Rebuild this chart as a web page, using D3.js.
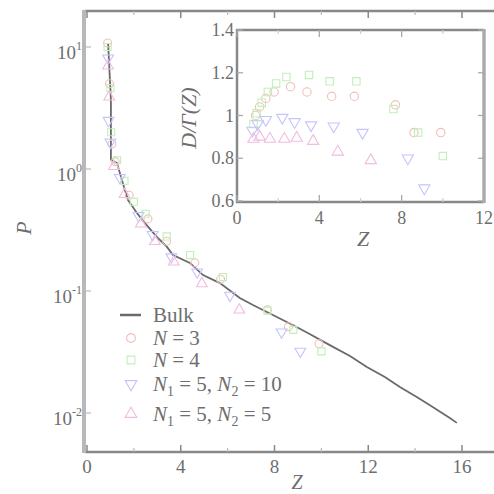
<!DOCTYPE html>
<html>
<head>
<meta charset="utf-8">
<script src="https://cdn.jsdelivr.net/npm/d3@7"></script>
<style>
  body { margin: 0; background: #fff; }
</style>
</head>
<body>
<svg id="chart" width="494" height="494" font-family="'Liberation Serif', 'Times New Roman', Times, 'DejaVu Serif', serif" fill="#6e6e6e"></svg>
<script>
// bulk curve, P against Z
var bulkZ = [0.90, 1.02, 1.02, 1.02, 1.28, 1.49, 1.75, 2.13, 2.47, 2.99, 3.41, 3.67, 4.39, 4.95, 5.67, 6.52, 7.08, 7.93, 8.78, 9.42, 10.36, 11.22, 11.94, 12.71, 13.35, 14.07, 14.75, 15.48, 15.78];
var bulkP = [10.8, 3.68, 1.97, 1.19, 1.12, 0.81, 0.557, 0.436, 0.36, 0.277, 0.23, 0.197, 0.17, 0.135, 0.116, 0.0877, 0.0768, 0.0635, 0.0526, 0.0453, 0.036, 0.0293, 0.0238, 0.0197, 0.0163, 0.0135, 0.0112, 0.0091, 0.0083];

// main plot series
var n3Z = [0.88, 0.96, 1.06, 1.2, 1.8, 2.6, 3.4, 4.6, 5.7, 7.7, 8.6, 9.9];
var n3P = [10.8, 5.0, 1.6, 1.15, 0.61, 0.39, 0.256, 0.17, 0.125, 0.07, 0.051, 0.037];
var n4Z = [0.88, 1.0, 1.03, 1.28, 1.6, 2.0, 2.5, 3.4, 4.4, 5.8, 7.7, 8.8, 10.0];
var n4P = [10, 4.6, 2.0, 1.18, 0.8, 0.54, 0.43, 0.28, 0.197, 0.13, 0.069, 0.048, 0.032];
var n510Z = [0.9, 0.92, 1.0, 1.4, 2.2, 2.8, 3.6, 4.7, 6.1, 8.3, 9.1];
var n510P = [8.1, 2.5, 1.66, 0.85, 0.415, 0.29, 0.19, 0.143, 0.092, 0.046, 0.032];
var n55Z = [0.9, 0.95, 1.15, 1.6, 2.3, 2.9, 3.7, 4.9, 6.5];
var n55P = [7.0, 3.9, 1.05, 0.62, 0.355, 0.255, 0.173, 0.115, 0.07];

// inset series, D/Γ(Z) against Z
var in3Z = [0.9, 1.1, 1.4, 1.8, 2.6, 3.4, 4.6, 5.7, 7.7, 8.6, 9.9];
var in3V = [1.0, 1.04, 1.08, 1.11, 1.135, 1.11, 1.09, 1.09, 1.05, 0.92, 0.92];
var in4Z = [0.8, 0.95, 1.2, 1.5, 1.9, 2.4, 3.5, 4.5, 5.8, 7.6, 8.8, 10.0];
var in4V = [0.96, 1.01, 1.06, 1.11, 1.15, 1.18, 1.19, 1.16, 1.16, 1.03, 0.92, 0.81];
var in510Z = [0.75, 1.0, 1.4, 2.2, 2.8, 3.6, 4.7, 6.1, 8.3, 9.1];
var in510V = [0.93, 0.96, 0.98, 0.99, 0.97, 0.955, 0.95, 0.92, 0.8, 0.66];
var in55Z = [0.8, 1.1, 1.6, 2.3, 2.9, 3.7, 4.9, 6.5];
var in55V = [0.89, 0.9, 0.89, 0.89, 0.895, 0.88, 0.83, 0.79];

var xTicks = [0, 4, 8, 12, 16];
var xMinor = [2, 6, 10, 14];
var yTicks = [10, 1, 0.1, 0.01];
var yExp = ["1", "0", "-1", "-2"];
var inXTicks = [0, 4, 8, 12];
var inXMinor = [2, 6, 10];
var inYTicks = [0.6, 0.8, 1, 1.2, 1.4];
var inYLabels = ["0.6", "0.8", "1", "1.2", "1.4"];

var series = [
  { sym: d3.symbolCircle, color: "#f0c0b8", z: n3Z, p: n3P, iz: in3Z, iv: in3V },
  { sym: d3.symbolSquare, color: "#c0f0b8", z: n4Z, p: n4P, iz: in4Z, iv: in4V },
  { sym: "down", color: "#c4c4fc", z: n510Z, p: n510P, iz: in510Z, iv: in510V },
  { sym: d3.symbolTriangle, color: "#f2bce0", z: n55Z, p: n55P, iz: in55Z, iv: in55V }
];

var svg = d3.select("#chart");
var axisCol = "#888";

var x = d3.scaleLinear().domain([0, 16]).range([87, 462]);
var y = d3.scaleLog().domain([0.01, 10]).range([413, 47]);

function marker(g, s, px, py, size) {
  var t;
  if (s.sym === "down") {
    t = g.append("path").attr("d", d3.symbol(d3.symbolTriangle, size)())
      .attr("transform", "translate(" + px + "," + py + ") rotate(180)");
  } else {
    t = g.append("path").attr("d", d3.symbol(s.sym, size)())
      .attr("transform", "translate(" + px + "," + py + ")");
  }
  t.attr("fill", "none").attr("stroke", s.color).attr("stroke-width", 1.1);
}

// ---- main frame
svg.append("line").attr("x1", 85).attr("x2", 494).attr("y1", 11).attr("y2", 11)
  .attr("stroke", axisCol).attr("stroke-width", 2.5);
svg.append("line").attr("x1", 85).attr("x2", 494).attr("y1", 452).attr("y2", 452)
  .attr("stroke", axisCol).attr("stroke-width", 2.5);
svg.append("line").attr("x1", 84).attr("x2", 84).attr("y1", 10).attr("y2", 453)
  .attr("stroke", "#b8b8b8").attr("stroke-width", 4);

xTicks.forEach(function(t) {
  svg.append("line").attr("x1", x(t)).attr("x2", x(t)).attr("y1", 452).attr("y2", 445)
    .attr("stroke", axisCol).attr("stroke-width", 1.5);
  svg.append("line").attr("x1", x(t)).attr("x2", x(t)).attr("y1", 11).attr("y2", 18)
    .attr("stroke", axisCol).attr("stroke-width", 1.5);
  svg.append("text").attr("x", x(t)).attr("y", 473).attr("text-anchor", "middle")
    .attr("font-size", 19).text(t);
});
xMinor.forEach(function(t) {
  svg.append("line").attr("x1", x(t)).attr("x2", x(t)).attr("y1", 452).attr("y2", 448)
    .attr("stroke", "#bbb").attr("stroke-width", 1.2);
  svg.append("line").attr("x1", x(t)).attr("x2", x(t)).attr("y1", 11).attr("y2", 15)
    .attr("stroke", "#bbb").attr("stroke-width", 1.2);
});
yTicks.forEach(function(t, i) {
  svg.append("line").attr("x1", 85).attr("x2", 91).attr("y1", y(t)).attr("y2", y(t))
    .attr("stroke", "#bbb").attr("stroke-width", 1.2);
  var tx = svg.append("text").attr("x", 82).attr("y", y(t) + 12).attr("text-anchor", "end")
    .attr("font-size", 19);
  tx.append("tspan").text("10");
  tx.append("tspan").attr("dy", -9).attr("font-size", 12).text(yExp[i]);
});

svg.append("text").attr("transform", "translate(31,228) rotate(-90)")
  .attr("text-anchor", "middle").attr("font-size", 22).attr("font-style", "italic").text("P");
svg.append("text").attr("x", 297).attr("y", 489).attr("text-anchor", "middle")
  .attr("font-size", 20).attr("font-style", "italic").text("Z");

// ---- bulk line and markers
var line = d3.line().x(function(d) { return x(d[0]); }).y(function(d) { return y(d[1]); });
svg.append("path").datum(d3.zip(bulkZ, bulkP)).attr("d", line)
  .attr("fill", "none").attr("stroke", "#6a6a6a").attr("stroke-width", 1.8);

var gm = svg.append("g");
series.forEach(function(s) {
  s.z.forEach(function(z, i) { marker(gm, s, x(z), y(s.p[i]), 50); });
});

// ---- legend
var lg = svg.append("g");
var rows = [315, 338, 360, 384, 414];
lg.append("line").attr("x1", 120).attr("x2", 141).attr("y1", rows[0]).attr("y2", rows[0])
  .attr("stroke", "#6a6a6a").attr("stroke-width", 2.5);
lg.append("text").attr("x", 153).attr("y", rows[0] + 7).attr("font-size", 21).text("Bulk");
series.forEach(function(s, i) {
  var ry = rows[i + 1];
  marker(lg, s, 131, ry, 60);
  var t = lg.append("text").attr("x", 153).attr("y", ry + 7).attr("font-size", 21);
  if (i < 2) {
    t.append("tspan").attr("font-style", "italic").text("N");
    t.append("tspan").text(" = " + (i + 3));
  } else {
    var second = i === 2 ? "10" : "5";
    t.append("tspan").attr("font-style", "italic").text("N");
    t.append("tspan").attr("dy", 5).attr("font-size", 14).text("1");
    t.append("tspan").attr("dy", -5).text(" = 5, ");
    t.append("tspan").attr("font-style", "italic").text("N");
    t.append("tspan").attr("dy", 5).attr("font-size", 14).text("2");
    t.append("tspan").attr("dy", -5).text(" = " + second);
  }
});

// ---- inset
var ix = d3.scaleLinear().domain([0, 12]).range([237, 484]);
var iy = d3.scaleLinear().domain([0.6, 1.4]).range([201, 30]);

svg.append("rect").attr("x", 236).attr("y", 30).attr("width", 248).attr("height", 172)
  .attr("fill", "#fff").attr("stroke", "none");
svg.append("line").attr("x1", 236).attr("x2", 484).attr("y1", 30).attr("y2", 30)
  .attr("stroke", axisCol).attr("stroke-width", 2.5);
svg.append("line").attr("x1", 236).attr("x2", 484).attr("y1", 202).attr("y2", 202)
  .attr("stroke", axisCol).attr("stroke-width", 2.5);
svg.append("line").attr("x1", 237).attr("x2", 237).attr("y1", 29).attr("y2", 203)
  .attr("stroke", axisCol).attr("stroke-width", 2.5);
svg.append("line").attr("x1", 484).attr("x2", 484).attr("y1", 29).attr("y2", 203)
  .attr("stroke", "#aaa").attr("stroke-width", 3.5);

inXTicks.forEach(function(t) {
  svg.append("line").attr("x1", ix(t)).attr("x2", ix(t)).attr("y1", 202).attr("y2", 195)
    .attr("stroke", "#aaa").attr("stroke-width", 1.3);
  svg.append("line").attr("x1", ix(t)).attr("x2", ix(t)).attr("y1", 30).attr("y2", 37)
    .attr("stroke", "#aaa").attr("stroke-width", 1.3);
  svg.append("text").attr("x", ix(t)).attr("y", 224).attr("text-anchor", "middle")
    .attr("font-size", 18).text(t);
});
inXMinor.forEach(function(t) {
  svg.append("line").attr("x1", ix(t)).attr("x2", ix(t)).attr("y1", 202).attr("y2", 198)
    .attr("stroke", "#ccc").attr("stroke-width", 1.2);
  svg.append("line").attr("x1", ix(t)).attr("x2", ix(t)).attr("y1", 30).attr("y2", 34)
    .attr("stroke", "#ccc").attr("stroke-width", 1.2);
});
inYTicks.forEach(function(t, i) {
  svg.append("line").attr("x1", 237).attr("x2", 243).attr("y1", iy(t)).attr("y2", iy(t))
    .attr("stroke", "#aaa").attr("stroke-width", 1.3);
  svg.append("line").attr("x1", 484).attr("x2", 478).attr("y1", iy(t)).attr("y2", iy(t))
    .attr("stroke", "#aaa").attr("stroke-width", 1.3);
  svg.append("text").attr("x", 234).attr("y", iy(t) + 6).attr("text-anchor", "end")
    .attr("font-size", 18).text(inYLabels[i]);
});

svg.append("text").attr("transform", "translate(196,118) rotate(-90)")
  .attr("text-anchor", "middle").attr("font-size", 22).attr("font-style", "italic").text("D/Γ(Z)");
svg.append("text").attr("x", 363).attr("y", 246).attr("text-anchor", "middle")
  .attr("font-size", 22).attr("font-style", "italic").text("Z");

var gi = svg.append("g");
series.forEach(function(s) {
  s.iz.forEach(function(z, i) { marker(gi, s, ix(z), iy(s.iv[i]), 55); });
});
</script>
</body>
</html>
